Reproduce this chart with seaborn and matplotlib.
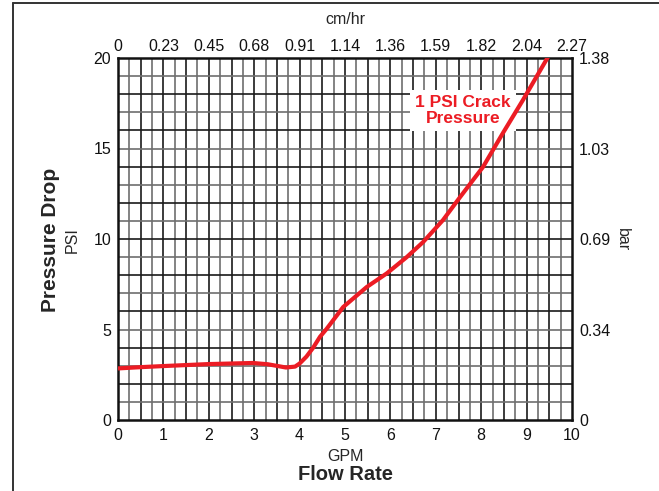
import numpy as np
import matplotlib
matplotlib.use("Agg")
import matplotlib.pyplot as plt
from matplotlib.lines import Line2D
import seaborn as sns
import pandas as pd

# flow rate (GPM) vs pressure drop (PSI)
gpm = [0.0, 0.5, 1.0, 2.0, 2.97, 3.3, 3.7, 3.9, 4.0, 4.15, 4.3, 4.45, 4.6,
       4.96, 5.48, 5.92, 6.36, 6.72, 7.16, 7.53, 8.04, 8.48, 8.92, 9.47]
psi = [2.85, 2.92, 2.98, 3.09, 3.15, 3.08, 2.9, 2.95, 3.12, 3.5, 4.0, 4.6, 5.05,
       6.24, 7.35, 8.1, 9.0, 9.83, 11.05, 12.3, 13.98, 15.86, 17.68, 20.05]

gpm_ticks = list(range(0, 11))
cmhr_labels = ["0", "0.23", "0.45", "0.68", "0.91", "1.14", "1.36",
               "1.59", "1.82", "2.04", "2.27"]
psi_ticks = [0, 5, 10, 15, 20]
bar_labels = ["0", "0.34", "0.69", "1.03", "1.38"]

RED = "#ec1c24"
DARK = "#1a1a1a"
GREY = "#6e6e6e"
W, H = 659, 491
FS = 11.5

sns.set_style("white")
plt.rcParams["font.family"] = ["Liberation Sans", "DejaVu Sans"]

fig = plt.figure(figsize=(W / 100, H / 100), dpi=100)
ax = fig.add_axes([118 / W, 1 - 420 / H, (572 - 118) / W, (420 - 58) / H])

df = pd.DataFrame({"GPM": gpm, "PSI": psi})
sns.lineplot(data=df, x="GPM", y="PSI", ax=ax, color=RED, lw=3.0,
             zorder=5, solid_capstyle="butt")

ax.set_xlim(0, 10)
ax.set_ylim(0, 20)

# grid: 0.25 GPM x 1 PSI
for v in np.arange(0.25, 10, 0.25):
    ax.axvline(v, color=DARK if v % 0.5 == 0 else GREY, lw=1.2, zorder=1)
for h in range(1, 20):
    ax.axhline(h, color=DARK if h % 2 == 0 else GREY, lw=1.2, zorder=1)

ax.set_xticks(gpm_ticks)
ax.set_xticklabels([str(t) for t in gpm_ticks])
ax.set_yticks(psi_ticks)
ax.set_yticklabels([str(t) for t in psi_ticks])
ax.tick_params(which="both", length=0, labelsize=FS, colors="#111111")
ax.tick_params(axis="x", pad=6)
ax.tick_params(axis="y", pad=5)
ax.set_xlabel("GPM", fontsize=FS, labelpad=4)
ax.set_ylabel("")
for s in ax.spines.values():
    s.set_color("#111111")
    s.set_linewidth(1.8)

# top axis: cm/hr
axt = ax.twiny()
axt.set_xlim(0, 10)
axt.set_xticks(gpm_ticks)
axt.set_xticklabels(cmhr_labels)
axt.tick_params(length=0, labelsize=FS, pad=3, colors="#111111")

# right axis: bar
axr = ax.twinx()
axr.set_ylim(0, 20)
axr.set_yticks(psi_ticks)
axr.set_yticklabels(bar_labels)
axr.tick_params(length=0, labelsize=FS, pad=5, colors="#111111")
for a in (axt, axr):
    for s in a.spines.values():
        s.set_visible(False)

ax.text(7.6, 17.1, "1 PSI Crack\nPressure", color=RED, fontsize=12.5,
        fontweight="bold", ha="center", va="center", linespacing=1.1, zorder=4,
        bbox=dict(boxstyle="square,pad=0.3", fc="white", ec="none"))

fig.text(345 / W, 1 - 20 / H, "cm/hr", ha="center", va="center", fontsize=FS)
fig.text(345 / W, 1 - 474 / H, "Flow Rate", ha="center", va="center",
         fontsize=14.5, fontweight="bold")
fig.text(50 / W, 1 - 240 / H, "Pressure Drop", ha="center", va="center",
         rotation=90, fontsize=15, fontweight="bold")
fig.text(72 / W, 1 - 240 / H, "PSI", ha="center", va="center",
         rotation=90, fontsize=FS)
fig.text(622 / W, 1 - 240 / H, "bar", ha="center", va="center",
         rotation=270, fontsize=FS)

# page frame (left and top edges)
fig.add_artist(Line2D([13 / W, 13 / W], [0, 1 - 3 / H], color="#333333", lw=1.4))
fig.add_artist(Line2D([13 / W, 1], [1 - 3 / H, 1 - 3 / H], color="#333333", lw=1.4))

fig.savefig("out.png", dpi=100)
